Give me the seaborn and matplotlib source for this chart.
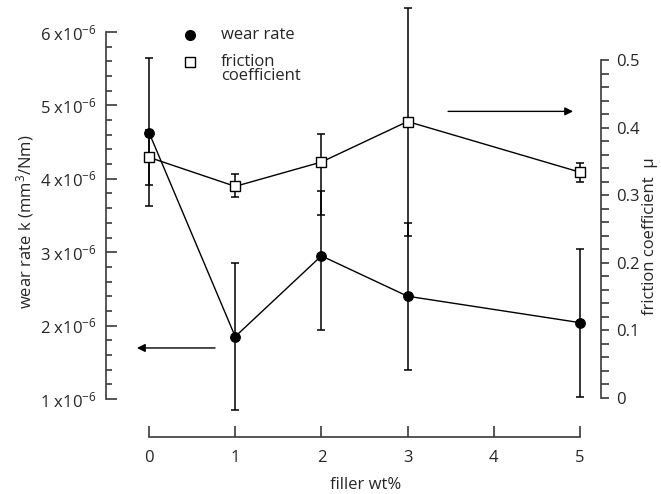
import matplotlib
matplotlib.use("Agg")
import matplotlib.pyplot as plt
import seaborn as sns
import pandas as pd
from matplotlib.ticker import FixedLocator

# ---------------- data ----------------
filler = [0, 1, 2, 3, 5]
wear = [4.63, 1.85, 2.95, 2.40, 2.04]            # x 1e-6 mm^3/Nm
wear_err_lo = [1.00, 1.00, 1.01, 1.00, 1.01]
wear_err_hi = [1.01, 1.00, 0.88, 1.00, 1.00]
friction = [0.356, 0.313, 0.349, 0.409, 0.334]
fric_err_lo = [0.041, 0.016, 0.079, 0.170, 0.015]
fric_err_hi = [0.041, 0.018, 0.041, 0.168, 0.013]

x_ticks = [0, 1, 2, 3, 4, 5]
wear_ticks = [1, 2, 3, 4, 5, 6]
wear_tick_labels = [f"{v} x10$^{{-6}}$" for v in wear_ticks]
fric_ticks = [0, 0.1, 0.2, 0.3, 0.4, 0.5]
fric_tick_labels = ["0", "0.1", "0.2", "0.3", "0.4", "0.5"]

df = pd.DataFrame({"filler": filler, "wear": wear, "friction": friction})

# ---------------- style ----------------
sns.set_style("ticks")
plt.rcParams["font.family"] = ["Open Sans", "DejaVu Sans"]
plt.rcParams["mathtext.fontset"] = "custom"
plt.rcParams["mathtext.rm"] = "Open Sans"
plt.rcParams["mathtext.default"] = "regular"
FS = 12
spine_col = "#3a3a3a"

W, H = 661, 494
fig = plt.figure(figsize=(W / 100, H / 100), dpi=100)
ax = fig.add_axes([106 / W, 57 / H, 495 / W, 405 / H])
ax2 = ax.twinx()

# ---------------- wear rate (left axis) ----------------
ax.errorbar(filler, wear, yerr=[wear_err_lo, wear_err_hi], fmt="none",
            ecolor="black", elinewidth=1.1, capsize=3.2, capthick=1.1,
            zorder=2, clip_on=False)
sns.lineplot(data=df, x="filler", y="wear", ax=ax, color="black",
             linewidth=1.0, marker="o", markersize=7,
             markerfacecolor="black", markeredgecolor="black", zorder=3)

# ---------------- friction (right axis) ----------------
ax2.errorbar(filler, friction, yerr=[fric_err_lo, fric_err_hi], fmt="none",
             ecolor="black", elinewidth=1.1, capsize=3.2, capthick=1.1,
             zorder=2, clip_on=False)
sns.lineplot(data=df, x="filler", y="friction", ax=ax2, color="black",
             linewidth=1.0, marker="s", markersize=7,
             markerfacecolor="white", markeredgecolor="black",
             markeredgewidth=1.0, zorder=3)

# ---------------- axes limits ----------------
ax.set_xlim(-0.499, 5.244)
ax.set_ylim(0.482, 6.0)
ax2.set_ylim(-0.058, 0.5415)

# spines
for a in (ax, ax2):
    a.spines["top"].set_visible(False)
    for s in a.spines.values():
        s.set_color(spine_col)
        s.set_linewidth(1.2)
ax.spines["right"].set_visible(False)
ax2.spines["left"].set_visible(False)
ax2.spines["bottom"].set_visible(False)
ax.spines["left"].set_bounds(1, 6)
ax.spines["bottom"].set_bounds(0, 5)
ax2.spines["right"].set_bounds(0, 0.5)

# ticks
ax.xaxis.set_major_locator(FixedLocator(x_ticks))
ax.set_xticklabels([str(t) for t in x_ticks], fontsize=FS)
ax.tick_params(axis="x", direction="in", length=8, width=1.2,
               color=spine_col, pad=9)

ax.yaxis.set_major_locator(FixedLocator(wear_ticks))
ax.set_yticklabels(wear_tick_labels, fontsize=FS)
ax.yaxis.set_minor_locator(FixedLocator([1 + 0.2 * i for i in range(26)]))
ax.tick_params(axis="y", which="major", direction="in", length=8,
               width=1.2, color=spine_col, pad=7)
ax.tick_params(axis="y", which="minor", direction="in", length=4,
               width=1.2, color=spine_col)

ax2.yaxis.set_major_locator(FixedLocator(fric_ticks))
ax2.set_yticklabels(fric_tick_labels, fontsize=FS)
ax2.yaxis.set_minor_locator(FixedLocator([0.02 * i for i in range(26)]))
ax2.tick_params(axis="y", which="major", direction="out", length=6,
                width=1.2, color=spine_col, pad=5)
ax2.tick_params(axis="y", which="minor", direction="out", length=6,
                width=1.2, color=spine_col)

ax.set_xlabel("")
ax.set_ylabel("")
ax2.set_ylabel("")

# axis labels
fig.text(366 / W, 1 - 485 / H, "filler wt%", fontsize=FS,
         ha="center", va="center")
fig.text(25 / W, 1 - 222 / H, "wear rate k (mm$^3$/Nm)", fontsize=FS,
         rotation=90, ha="center", va="center")
fig.text(650 / W, 1 - 236 / H, "friction coefficient  \u03bc", fontsize=FS,
         rotation=90, ha="center", va="center")

# arrows
ax.annotate("", xy=(-0.14, 1.695), xytext=(0.766, 1.695),
            arrowprops=dict(arrowstyle="-|>", color="black", lw=1.0,
                            mutation_scale=12, shrinkA=0, shrinkB=0))
ax2.annotate("", xy=(4.92, 0.424), xytext=(3.47, 0.424),
             arrowprops=dict(arrowstyle="-|>", color="black", lw=1.0,
                             mutation_scale=12, shrinkA=0, shrinkB=0))

# manual legend
ax2.plot([0.170], [0.993], transform=ax.transAxes, marker="o", markersize=7,
         color="black", linestyle="none", clip_on=False)
ax2.plot([0.170], [0.926], transform=ax.transAxes, marker="s", markersize=7,
         markerfacecolor="white", markeredgecolor="black",
         markeredgewidth=1.0, linestyle="none", clip_on=False)
ax2.text(0.232, 0.993, "wear rate", transform=ax.transAxes, fontsize=FS,
         ha="left", va="center")
ax2.text(0.232, 0.945, "friction\ncoefficient", transform=ax.transAxes,
         fontsize=FS, ha="left", va="top", linespacing=0.85)

if ax.get_legend():
    ax.get_legend().remove()
if ax2.get_legend():
    ax2.get_legend().remove()

fig.savefig("out.png", dpi=100)
